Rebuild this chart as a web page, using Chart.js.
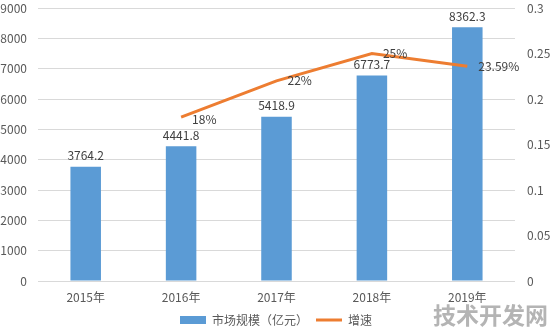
<!DOCTYPE html>
<html lang="zh">
<head>
  <meta charset="UTF-8">
  <title>市场规模与增速</title>
  <script src="https://cdn.jsdelivr.net/npm/chart.js"></script>
  <style>
    html, body {
      margin: 0;
      padding: 0;
      background: #fff;
    }
    .wrap {
      position: relative;
      width: 552px;
      height: 336px;
    }
    .mark {
      position: absolute;
      right: 4px;
      bottom: 5px;
      font-family: "Noto Sans CJK SC", sans-serif;
      font-weight: bold;
      font-size: 23px;
      color: #b4b4b4;
    }
  </style>
</head>
<body>

<div class="wrap">
  <canvas id="chart" width="552" height="336"></canvas>
  <div class="mark">技术开发网</div>
</div>

<script>
  const years = ['2015年', '2016年', '2017年', '2018年', '2019年'];
  const marketSize = [3764.2, 4441.8, 5418.9, 6773.7, 8362.3];
  const growth = [null, 0.18, 0.22, 0.25, 0.2359];
  const growthLabels = ['', '18%', '22%', '25%', '23.59%'];

  const FONT = '"Noto Sans CJK SC", "Noto Sans", sans-serif';

  // подписи значений над столбцами и справа от точек линии
  const valueLabels = {
    id: 'valueLabels',
    afterDatasetsDraw(chart) {
      const ctx = chart.ctx;
      ctx.save();
      ctx.font = '12px ' + FONT;
      ctx.fillStyle = '#404040';

      chart.getDatasetMeta(0).data.forEach((bar, i) => {
        ctx.textAlign = 'center';
        ctx.textBaseline = 'bottom';
        ctx.fillText(marketSize[i].toFixed(1), bar.x, bar.y - 5);
      });

      chart.getDatasetMeta(1).data.forEach((pt, i) => {
        if (growth[i] === null) return;
        ctx.textAlign = 'left';
        ctx.textBaseline = 'middle';
        const dy = i === 1 ? 2 : 0;
        ctx.fillText(growthLabels[i], pt.x + 11, pt.y + dy);
      });
      ctx.restore();
    }
  };

  const ctx = document.getElementById('chart').getContext('2d');

  // фиксированная ширина вертикальной оси без отступов сверху/снизу
  function fixY(w) {
    return (scale) => {
      scale.width = w;
      scale.paddingTop = 0;
      scale.paddingBottom = 0;
    };
  }

  new Chart(ctx, {
    data: {
      labels: years,
      datasets: [
        {
          type: 'bar',
          label: '市场规模（亿元）',
          data: marketSize,
          backgroundColor: '#5B9BD5',
          borderWidth: 0,
          barPercentage: 0.32,
          categoryPercentage: 1,
          yAxisID: 'y',
          pointStyle: 'rect',
          order: 2
        },
        {
          type: 'line',
          label: '增速',
          data: growth,
          borderColor: '#ED7D31',
          backgroundColor: '#ED7D31',
          borderWidth: 3,
          pointRadius: 0,
          pointStyle: 'line',
          tension: 0,
          yAxisID: 'y1',
          order: 1
        }
      ]
    },
    options: {
      responsive: false,
      animation: false,
      layout: {
        padding: { top: 8, left: 0, right: 0, bottom: 0 }
      },
      plugins: {
        tooltip: { enabled: false },
        legend: {
          position: 'bottom',
          labels: {
            usePointStyle: true,
            pointStyleWidth: 26,
            boxHeight: 8,
            padding: 8,
            color: '#595959',
            font: { family: FONT, size: 12 },
            sort: (a, b) => a.datasetIndex - b.datasetIndex
          }
        }
      },
      scales: {
        x: {
          grid: { display: false, drawTicks: false },
          border: { display: false },
          ticks: {
            color: '#595959',
            padding: 9,
            font: { family: FONT, size: 12 }
          },
          afterFit(scale) { scale.height = 25; }
        },
        y: {
          position: 'left',
          min: 0,
          max: 9000,
          ticks: {
            stepSize: 1000,
            color: '#595959',
            padding: 11,
            font: { family: FONT, size: 12 },
            callback: (v) => String(v)
          },
          grid: { color: '#d9d9d9', drawTicks: false },
          border: { display: false },
          afterFit: fixY(38)
        },
        y1: {
          position: 'right',
          min: 0,
          max: 0.3,
          ticks: {
            stepSize: 0.05,
            color: '#595959',
            padding: 12,
            font: { family: FONT, size: 12 },
            callback: (v) => String(Math.round(v * 100) / 100)
          },
          grid: { display: false, drawTicks: false },
          border: { display: false },
          afterFit: fixY(37)
        }
      }
    },
    plugins: [valueLabels]
  });
</script>

</body>
</html>
